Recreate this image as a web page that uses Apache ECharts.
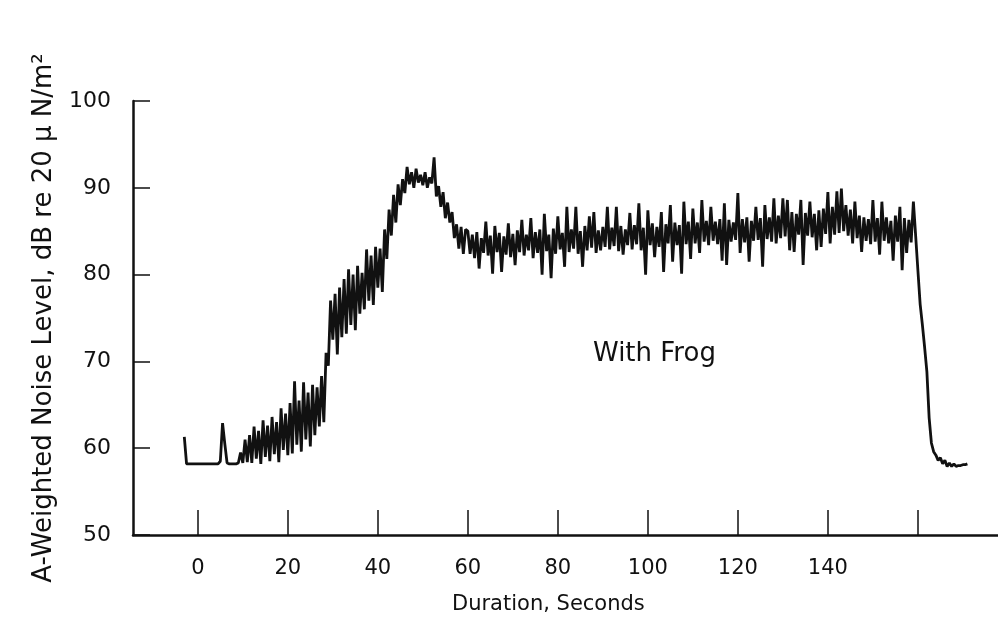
<!DOCTYPE html>
<html>
<head>
<meta charset="utf-8">
<script src="https://cdn.jsdelivr.net/npm/echarts@6/dist/echarts.min.js"></script>
<style>html,body{margin:0;padding:0;background:#fff;}#c{width:998px;height:633px;}</style>
</head>
<body>
<div id="c"></div>
<script>
// Sampling: one reading every 0.5 s starting at t = -3 s
const T_START = -3;
const T_STEP = 0.5;

// t = -3 .. 29.5 s : idle, then rising band
const levelsRamp = [
  61.3, 58.2, 58.2, 58.2, 58.2, 58.2, 58.2, 58.2, 58.2, 58.2,
  58.2, 58.2, 58.2, 58.2, 58.2, 58.2, 58.5, 62.9, 60.5, 58.3,
  58.2, 58.2, 58.2, 58.2, 58.3, 59.5, 58.3, 61.0, 58.4, 61.5,
  58.3, 62.5, 58.8, 62.0, 58.2, 63.2, 59.0, 62.6, 58.5, 63.6,
  59.3, 63.0, 58.4, 64.6, 59.8, 64.0, 59.2, 65.2, 59.4, 67.7,
  60.4, 65.5, 59.6, 67.6, 61.0, 66.4, 60.2, 67.3, 61.5, 67.0,
  62.5, 68.3, 63.0, 71.0, 69.5, 77.0
];

// t = 30 .. 59.5 s : climb to the peak and settle
const levelsPeak = [
  72.5, 77.8, 70.8, 78.5, 72.8, 79.5, 73.2, 80.6, 74.2, 80.0,
  73.6, 81.0, 75.5, 80.2, 76.0, 82.9, 77.0, 82.2, 76.5, 83.2,
  78.5, 83.0, 78.0, 85.2, 81.8, 87.5, 84.5, 89.2, 86.0, 90.4,
  88.0, 91.0, 89.4, 92.4, 90.4, 91.8, 90.0, 92.2, 90.6, 91.5,
  90.3, 91.8, 90.0, 91.2, 90.5, 93.5, 89.0, 90.2, 87.8, 89.5,
  86.5, 88.3, 86.0, 87.2, 84.2, 85.8, 83.0, 85.5, 82.4, 85.2
];

// t = 60 .. 109.5 s : plateau, first half
const levelsPlateauA = [
  85.0, 82.4, 84.6, 81.9, 84.9, 80.7, 84.2, 82.5, 86.1, 82.2,
  84.5, 80.1, 85.6, 82.6, 84.8, 80.3, 84.4, 82.3, 85.9, 82.0,
  84.7, 81.1, 85.1, 82.6, 86.3, 82.2, 84.6, 82.8, 86.5, 81.9,
  84.9, 82.5, 85.2, 80.0, 87.0, 82.7, 84.6, 79.6, 85.3, 82.4,
  86.7, 82.9, 84.8, 80.9, 87.8, 82.6, 85.2, 83.0, 87.8, 82.4,
  85.0, 80.9, 85.6, 82.8, 86.7, 83.1, 87.2, 82.5, 85.1, 82.8,
  85.5, 83.2, 87.8, 82.9, 85.4, 83.3, 87.8, 82.7, 85.6, 82.3,
  85.2, 83.4, 87.1, 82.9, 85.7, 83.5, 88.2, 82.8, 85.4, 80.0,
  87.4, 83.4, 85.9, 82.0, 85.5, 83.2, 87.2, 80.3, 85.8, 83.6,
  88.0, 81.5, 86.0, 83.4, 85.7, 80.1, 88.4, 83.5, 86.1, 81.8
];

// t = 110 .. 159.5 s : plateau, second half
const levelsPlateauB = [
  87.6, 83.6, 86.0, 82.5, 88.6, 83.8, 86.2, 83.4, 87.8, 83.9,
  86.1, 83.5, 86.4, 81.6, 88.2, 81.1, 86.3, 83.8, 86.0, 84.0,
  89.4, 82.5, 86.4, 83.7, 86.6, 81.5, 86.2, 83.9, 87.8, 84.0,
  86.5, 80.9, 88.0, 84.1, 86.6, 83.8, 88.8, 83.6, 86.8, 84.2,
  88.8, 84.4, 88.6, 82.8, 87.2, 82.6, 87.0, 84.6, 88.6, 81.1,
  87.1, 84.5, 88.4, 84.3, 87.0, 82.8, 87.4, 83.2, 87.6, 84.7,
  89.5, 83.6, 87.8, 84.6, 89.6, 84.8, 89.9, 85.0, 88.0, 84.5,
  87.5, 83.6, 88.4, 84.2, 86.8, 82.6, 86.6, 83.9, 86.4, 83.5,
  88.6, 83.8, 86.5, 82.3, 88.4, 83.9, 86.6, 83.6, 86.2, 81.6,
  86.8, 83.8, 87.8, 80.5, 86.5, 82.5, 86.3, 83.7, 88.4, 84.5
];

// t = 160 .. 171 s : shut-down
const levelsDecay = [
  80.5, 76.6, 74.2, 71.6, 68.8, 63.5, 60.6, 59.6, 59.2, 58.6,
  58.9, 58.2, 58.6, 57.9, 58.3, 57.9, 58.2, 57.9, 58.0, 58.0,
  58.1, 58.1, 58.2
];

const xTickValues = [0, 20, 40, 60, 80, 100, 120, 140, 160];
const xLabelValues = [0, 20, 40, 60, 80, 100, 120, 140];

const levels = [].concat(levelsRamp, levelsPeak, levelsPlateauA, levelsPlateauB, levelsDecay);
const seriesData = levels.map((v, i) => [T_START + i * T_STEP, v]);

const chart = echarts.init(document.getElementById('c'), null, {renderer: 'canvas'});
const FONT = 'DejaVu Sans';
chart.setOption({
  backgroundColor: '#ffffff',
  animation: false,
  grid: {left: 133, right: 0, top: 101, bottom: 98},
  xAxis: {
    type: 'value',
    min: -14.4,
    max: 177.8,
    splitLine: {show: false},
    axisLine: {show: true, onZero: false, lineStyle: {color: '#111', width: 2.5}},
    axisTick: {show: true, inside: true, length: 25, customValues: xTickValues, lineStyle: {color: '#111', width: 1.5}},
    axisLabel: {show: true, customValues: xLabelValues, margin: 23, fontFamily: FONT, fontSize: 21, color: '#111'}
  },
  yAxis: {
    type: 'value',
    min: 50,
    max: 100,
    interval: 10,
    splitLine: {show: false},
    axisLine: {show: true, onZero: false, lineStyle: {color: '#111', width: 2.5}},
    axisTick: {show: true, inside: true, length: 17, lineStyle: {color: '#111', width: 1.5}},
    axisLabel: {margin: 22, fontFamily: FONT, fontSize: 22, color: '#111'},
    name: 'A-Weighted Noise Level, dB re 20 μ N/m²',
    nameLocation: 'middle',
    nameGap: 76,
    nameRotate: 90,
    nameTextStyle: {fontFamily: FONT, fontSize: 26, color: '#111'}
  },
  graphic: [
    {type: 'text', left: 593, top: 341, style: {text: 'With Frog', font: '26px "DejaVu Sans"', fill: '#111'}},
    {type: 'text', left: 452, top: 594, style: {text: 'Duration, Seconds', font: '21px "DejaVu Sans"', fill: '#111'}}
  ],
  series: [{
    type: 'line',
    data: seriesData,
    showSymbol: false,
    symbol: 'none',
    lineStyle: {color: '#111', width: 2.8},
    z: 3
  }]
});
</script>
</body>
</html>
